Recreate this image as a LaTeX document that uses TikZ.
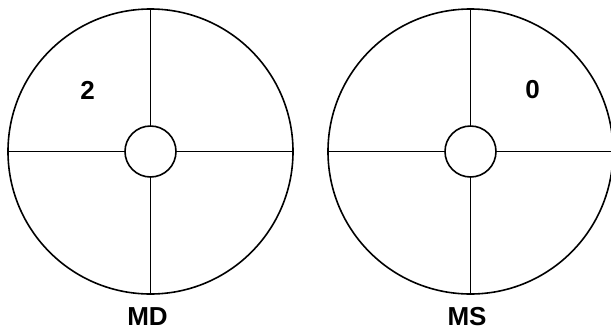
\documentclass[tikz,border=0pt]{standalone}
\usepackage{fontspec}
\setmainfont{Liberation Sans}
\begin{document}
\begin{tikzpicture}[x=1pt,y=-1pt,line width=1.6pt,
  outer/.style={draw,circle,minimum size=285pt,inner sep=0pt},
  inner/.style={draw,circle,minimum size=51pt,inner sep=0pt},
  lbl/.style={font=\fontsize{26}{30}\selectfont\bfseries,inner sep=0pt}]
\useasboundingbox (0,0) rectangle (611,333);
\clip (0,0) rectangle (611,333);
% left
\node[outer] (oL) at (150.5,151.5) {};
\node[inner] (iL) at (150.5,151.5) {};
\draw (iL.north) -- (oL.north);
\draw (iL.south) -- (oL.south);
\draw (iL.west) -- (oL.west);
\draw (iL.east) -- (oL.east);
\node[lbl] (nL) at (87.5,90) {2};
\node[lbl] (tL) at (147.5,317) {MD};
% right
\node[outer] (oR) at (470.5,151.5) {};
\node[inner] (iR) at (470.5,151.5) {};
\draw (iR.north) -- (oR.north);
\draw (iR.south) -- (oR.south);
\draw (iR.west) -- (oR.west);
\draw (iR.east) -- (oR.east);
\node[lbl] (nR) at (532.5,90) {0};
\node[lbl] (tR) at (467,317) {MS};
\end{tikzpicture}
\end{document}
